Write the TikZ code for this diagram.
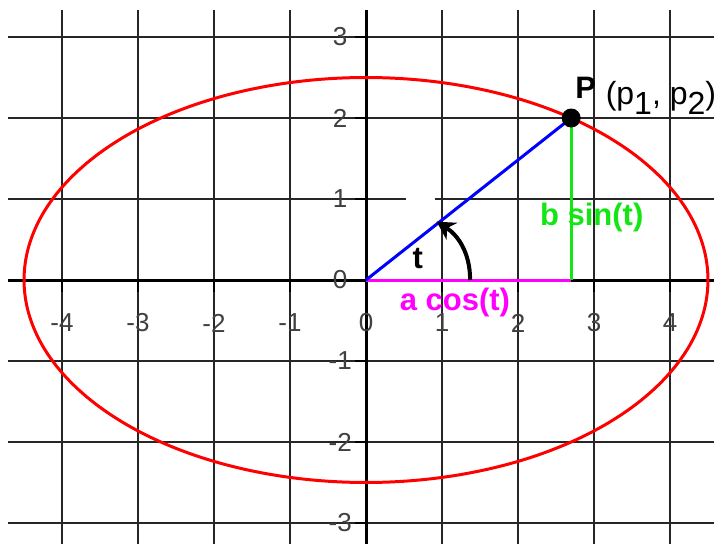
\documentclass[tikz,border=0pt]{standalone}
\usepackage{fontspec}
\setmainfont{Liberation Sans}
\usetikzlibrary{arrows.meta}
\definecolor{ellred}{RGB}{255,0,0}
\definecolor{radblue}{RGB}{0,0,255}
\definecolor{cosmag}{RGB}{255,0,255}
\definecolor{singreen}{RGB}{20,230,20}
\tikzset{
  gridline/.style={black!85,line width=0.75pt},
  axisline/.style={black,line width=1.5pt},
  tickmark/.style={black,line width=1.3pt},
  ticklabel/.style={text=black!75,font=\fontsize{13}{14}\selectfont,inner sep=0pt},
  boldlabel/.style={font=\bfseries\fontsize{15.5}{17}\selectfont,inner sep=0pt},
  curve/.style={line width=1.5pt},
}
\begin{document}
\begin{tikzpicture}[x=38pt,y=40.5pt]
  \useasboundingbox (-4.816,-3.259) rectangle (4.579,3.457);
  \fill[white] (-4.816,-3.259) rectangle (4.579,3.457);

  % grid
  \foreach \i in {-4,...,4}
    \draw[gridline] (\i,3.33) -- (\i,-3.3);
  \foreach \j in {-3,-2,-1,2,3}
    \draw[gridline] (-4.71,\j) -- (4.6,\j);
  \draw[gridline] (-4.71,1) -- (0.53,1);
  \draw[gridline] (0.91,1) -- (4.6,1);

  % axes
  \draw[axisline] (-4.71,0) -- (4.6,0);
  \draw[axisline] (0,3.33) -- (0,-3.3);
  \foreach \i [count=\k] in {-4,...,4}{
    \draw[tickmark] (\i,0) -- (\i,-0.15);
    \node[ticklabel] (xlab\k) at (\i,-0.53) {\i};
  }
  \foreach \j [count=\k] in {-3,...,3}{
    \draw[tickmark] (0,\j) -- (-0.15,\j);
    \node[ticklabel] (ylab\k) at (-0.34,\j) {\j};
  }

  % ellipse
  \draw[curve,ellred] plot[domain=0:360,samples=200,smooth,variable=\t]
    ({4.5*cos(\t)},{2.5*sin(\t)});

  \coordinate (O) at (0,0);
  \coordinate (P) at (2.7,2);
  \coordinate (Pfoot) at (2.7,0);
  \coordinate (arcstart) at (1.37,0);
  \coordinate (arctip) at (0.93,0.72);

  \draw[curve,cosmag] (O) -- (Pfoot);
  \draw[curve,singreen] (Pfoot) -- (P);
  \draw[curve,radblue] (O) -- (P);
  \draw[black,line width=2pt,-{Stealth[length=9pt,width=10pt]}] (arcstart)
    .. controls (1.37,0.35) and (1.2,0.56) .. (arctip);

  \node[circle,fill=black,inner sep=0pt,minimum size=9.5pt] (Pdot) at (P) {};
  \node[boldlabel] (Plabel) at (2.89,2.37) {P};
  \node[anchor=west,inner sep=0pt,font=\fontsize{16}{18}\selectfont] (Pcoords) at (3.15,2.25)
    {(p\raisebox{-0.6ex}{1}, p\raisebox{-0.6ex}{2})};

  \node[boldlabel] (tlabel) at (0.68,0.27) {t};
  \node[boldlabel,text=cosmag] (coslabel) at (1.17,-0.28) {a cos(t)};
  \node[boldlabel,text=singreen] (sinlabel) at (2.97,0.77) {b sin(t)};
\end{tikzpicture}
\end{document}
